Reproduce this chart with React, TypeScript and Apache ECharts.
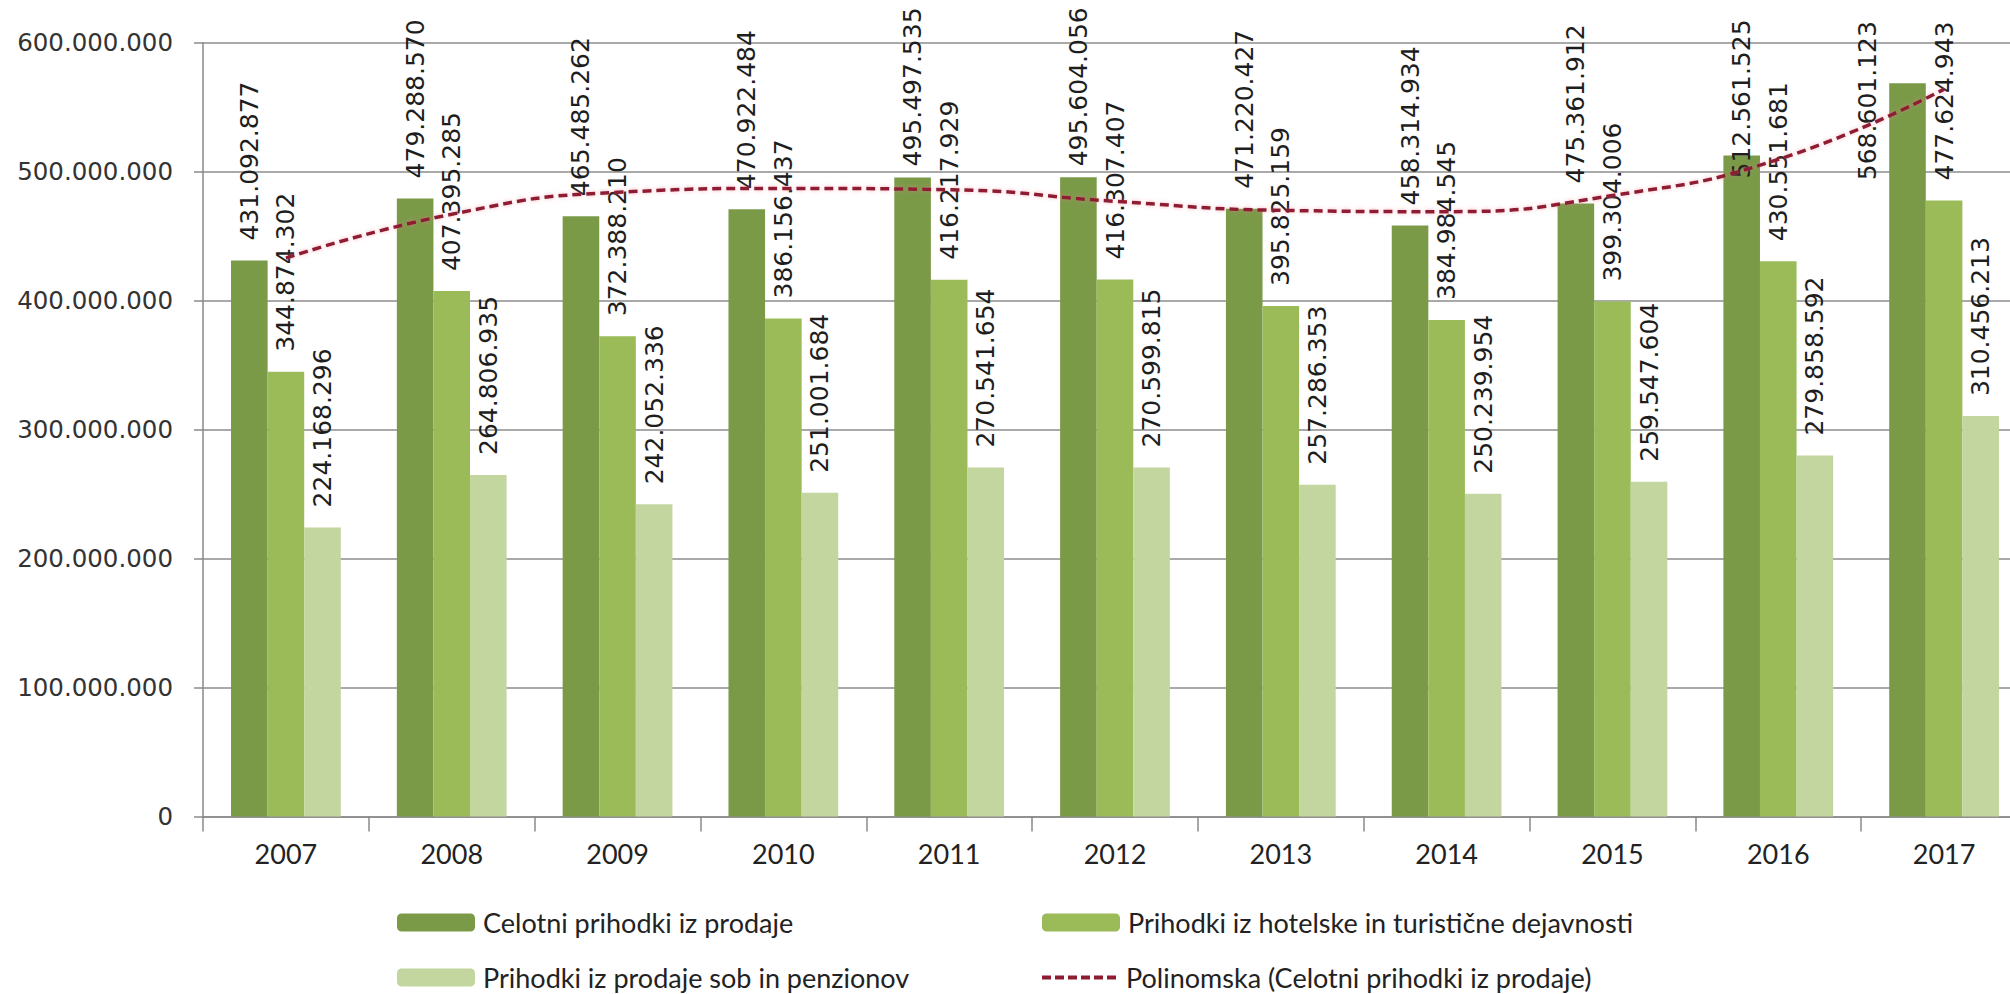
import React, { useEffect, useRef } from "react";
import * as echarts from "echarts";

const years = ["2007", "2008", "2009", "2010", "2011", "2012", "2013", "2014", "2015", "2016", "2017"];
const celotni = [431092877, 479288570, 465485262, 470922484, 495497535, 495604056, 471220427, 458314934, 475361912, 512561525, 568601123];
const hotelske = [344874302, 407395285, 372388210, 386156437, 416217929, 416307407, 395825159, 384984545, 399304006, 430551681, 477624943];
const sobe = [224168296, 264806935, 242052336, 251001684, 270541654, 270599815, 257286353, 250239954, 259547604, 279858592, 310456213];
// polynomial trend line values
const trend = [433e6, 467e6, 484e6, 487e6, 486e6, 477e6, 470e6, 469e6, 481.5e6, 509.5e6, 564e6];
const names = [
  "Celotni prihodki iz prodaje",
  "Prihodki iz hotelske in turistične dejavnosti",
  "Prihodki iz prodaje sob in penzionov",
  "Polinomska (Celotni prihodki iz prodaje)",
];

const colors = ["#7A9A48", "#9BBB59", "#C4D6A0", "#8E1B30"];

// label placement tweaks for labels that would leave the chart area (style only)
const labelOffsets: Record<number, number[]> = {
  4: [-9, 0],
  5: [-9, 0],
  9: [-43, 0],
  10: [-117, -40],
};

const dashIcon =
  "path://M0,0h9v4h-9z M13,0h9v4h-9z M26,0h9v4h-9z M39,0h9v4h-9z M52,0h9v4h-9z M65,0h9v4h-9z";

const fmt = (v: number) =>
  Math.round(v).toString().replace(/\B(?=(\d{3})+(?!\d))/g, ".");

export default function App() {
  const ref = useRef<HTMLDivElement>(null);
  useEffect(() => {
    if (!ref.current) return;
    const chart = echarts.init(ref.current, undefined, { renderer: "svg" });
    const barLabel = {
      show: true,
      position: "top",
      distance: 20,
      rotate: 90,
      align: "left",
      verticalAlign: "middle",
      fontFamily: "DejaVu Sans",
      fontSize: 25,
      color: "#1e1e1e",
      formatter: (p: any) => fmt(p.value),
    };
    const legendCommon = {
      itemWidth: 78,
      itemHeight: 18,
      itemGap: 0,
      padding: 0,
      textStyle: {
        fontFamily: "Lato",
        fontSize: 27,
        color: "#222",
        padding: [0, 0, 0, 3],
      },
    };
    const option: any = {
      animation: false,
      backgroundColor: "#ffffff",
      grid: { left: 203, top: 42.7, right: 0, bottom: 177.5, containLabel: false },
      legend: [
        { ...legendCommon, data: [names[0]], left: 397, top: 909 },
        { ...legendCommon, data: [names[1]], left: 1042, top: 909 },
        { ...legendCommon, data: [names[2]], left: 397, top: 964 },
        {
          ...legendCommon,
          itemHeight: 4,
          data: [{ name: names[3], icon: dashIcon }],
          left: 1042,
          top: 964,
        },
      ],
      xAxis: {
        type: "category",
        data: years,
        axisLine: { lineStyle: { color: "#8a8a8a", width: 1.5 } },
        axisTick: { show: true, length: 15, interval: 0, lineStyle: { color: "#8a8a8a", width: 1.5 } },
        axisLabel: { fontFamily: "Lato", fontSize: 27, color: "#222", margin: 23, interval: 0 },
        splitLine: { show: false },
      },
      yAxis: {
        type: "value",
        min: 0,
        max: 600000000,
        interval: 100000000,
        axisLine: { show: true, lineStyle: { color: "#8a8a8a", width: 1.5 } },
        axisTick: { show: true, length: 9, lineStyle: { color: "#8a8a8a", width: 1.5 } },
        splitLine: { lineStyle: { color: "#8c8c8c", width: 1.5 } },
        axisLabel: {
          fontFamily: "DejaVu Sans",
          fontSize: 24.5,
          color: "#333",
          margin: 30,
          formatter: (v: number) => fmt(v),
        },
      },
      series: [
        {
          name: names[0],
          type: "bar",
          barGap: "0%",
          barCategoryGap: "33.8%",
          itemStyle: { color: colors[0] },
          label: barLabel,
          data: celotni.map((v, i) =>
            labelOffsets[i] ? { value: v, label: { offset: labelOffsets[i] } } : v
          ),
        },
        {
          name: names[1],
          type: "bar",
          barGap: "0%",
          barCategoryGap: "33.8%",
          itemStyle: { color: colors[1] },
          label: barLabel,
          data: hotelske,
        },
        {
          name: names[2],
          type: "bar",
          barGap: "0%",
          barCategoryGap: "33.8%",
          itemStyle: { color: colors[2] },
          label: barLabel,
          data: sobe,
        },
        {
          name: names[3],
          type: "line",
          smooth: true,
          symbol: "none",
          z: 5,
          itemStyle: { color: colors[3] },
          lineStyle: {
            color: colors[3],
            width: 3.5,
            type: [9, 5],
            shadowColor: "rgba(240,120,140,0.55)",
            shadowBlur: 4,
          },
          data: trend,
        },
      ],
    };
    chart.setOption(option);
    return () => chart.dispose();
  }, []);
  return (
    <div
      style={{
        position: "fixed",
        left: 0,
        top: 0,
        width: 2010,
        height: 994,
        overflow: "hidden",
        background: "#fff",
      }}
    >
      <div ref={ref} style={{ width: 2027, height: 994 }} />
    </div>
  );
}
